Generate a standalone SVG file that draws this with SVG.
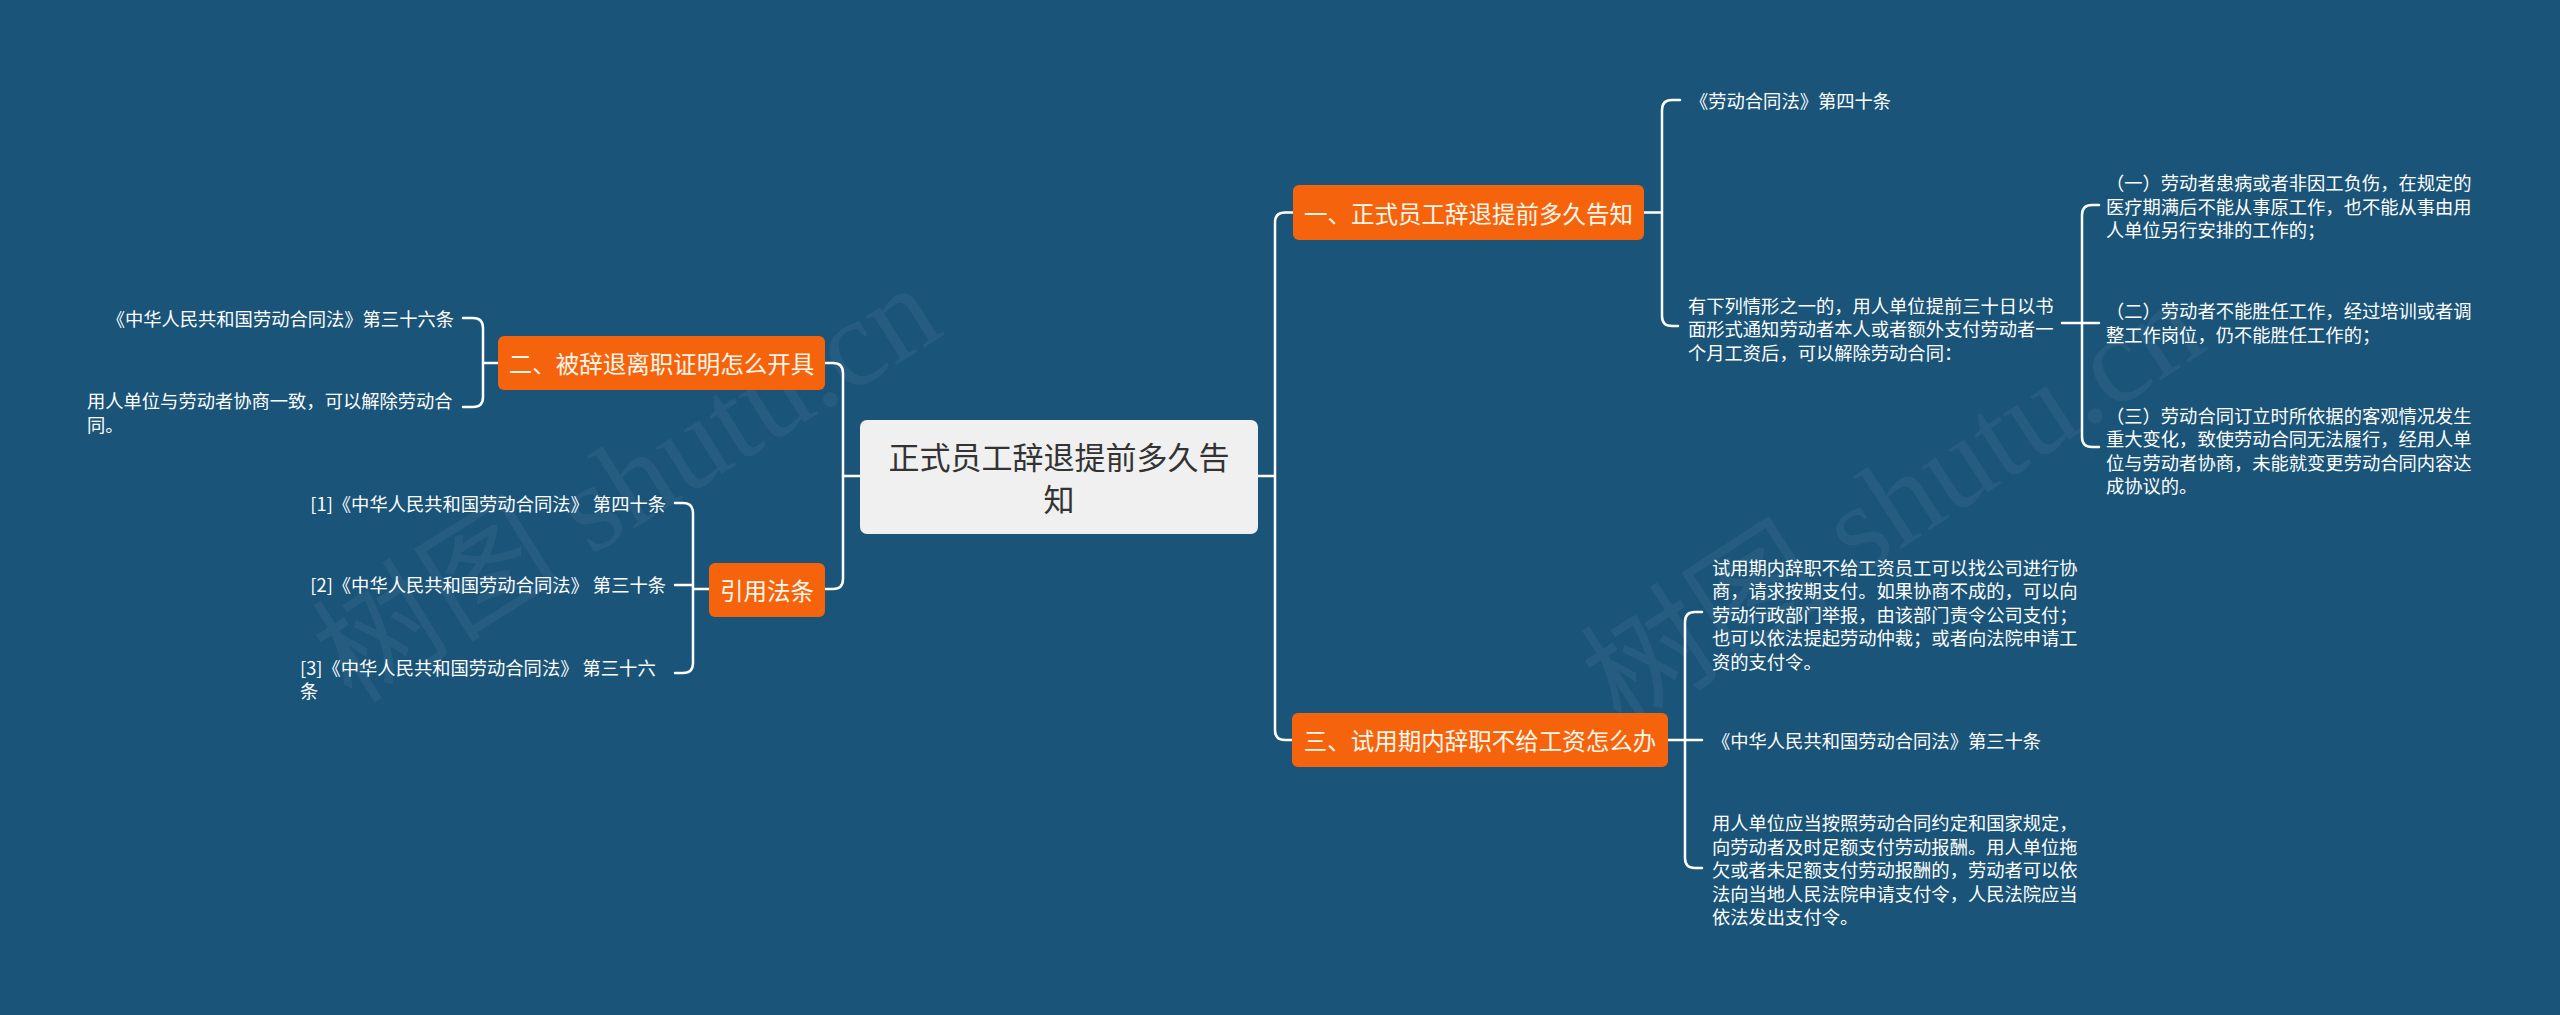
<svg xmlns="http://www.w3.org/2000/svg" width="2560" height="1015" viewBox="0 0 2560 1015">
<style>
.bg{fill:#1a5479}
.wm{font-family:"Liberation Serif","Noto Sans CJK SC",serif;font-size:125px;fill:#a8b4bf;fill-opacity:0.09}
.root rect{fill:#f0f0f0}
.root text{font-family:"Noto Sans CJK SC","Noto Sans",sans-serif;font-size:31px;fill:#333333;text-anchor:middle;dominant-baseline:central}
.br rect{fill:#f5640c}
.br text{font-family:"Noto Sans CJK SC","Noto Sans",sans-serif;font-size:23.5px;fill:#fff6ea;text-anchor:middle;dominant-baseline:central}
.lf text{font-family:"Noto Sans CJK SC","Noto Sans",sans-serif;font-size:18.3px;fill:#ffffff;dominant-baseline:central}
.end{text-anchor:end}
#connectors path{fill:none;stroke:#ffffff;stroke-width:2.5;stroke-linecap:round;stroke-linejoin:round}
</style>
<rect class="bg" x="0" y="0" width="2560" height="1015"/>
<text class="wm" transform="translate(352,705) rotate(-32)">树图 shutu.cn</text>
<text class="wm" transform="translate(1622,730) rotate(-33)">树图 shutu.cn</text>

<g id="connectors">
<path d="M1258,476 H1275 M1293,212.5 H1285 Q1275,212.5 1275,222.5 V730 Q1275,740 1285,740 H1292"/>
<path d="M860,476 H843 M825,363 H833 Q843,363 843,373 V579 Q843,589 833,589 H825"/>
<path d="M1644,212.5 H1662 M1680,100 H1672 Q1662,100 1662,110 V316 Q1662,326 1672,326 H1678"/>
<path d="M2062,323 H2099 M2099,205 H2092 Q2082,205 2082,215 V437 Q2082,447 2092,447 H2099"/>
<path d="M1668,740 H1702 M1702,612 H1695 Q1685,612 1685,622 V858 Q1685,868 1695,868 H1702"/>
<path d="M498,363 H483 M463,318 H473 Q483,318 483,328 V397 Q483,407 473,407 H463"/>
<path d="M709,589 H693 M675,585 H693 M675,503 H683 Q693,503 693,513 V663 Q693,673 683,673 H675"/>
</g>

<g id="root" class="root">
<rect x="860" y="420" width="398" height="114" rx="7"/>
<text x="1059" y="455">正式员工辞退提前多久告</text>
<text x="1059" y="497">知</text>
</g>

<g id="branch1" class="br">
<rect x="1293" y="185" width="351" height="55" rx="6"/>
<text x="1468.5" y="212.5">一、正式员工辞退提前多久告知</text>
</g>
<g id="branch2" class="br">
<rect x="498" y="336" width="327" height="54" rx="6"/>
<text x="661.5" y="363">二、被辞退离职证明怎么开具</text>
</g>
<g id="branch3" class="br">
<rect x="1292" y="713" width="376" height="54" rx="6"/>
<text x="1480" y="740">三、试用期内辞职不给工资怎么办</text>
</g>
<g id="branch4" class="br">
<rect x="709" y="563" width="116" height="54" rx="6"/>
<text x="767" y="590">引用法条</text>
</g>

<g id="leaf1a" class="lf"><text x="1690" y="100">《劳动合同法》第四十条</text></g>
<g id="leaf1b" class="lf">
<text x="1688" y="304.5">有下列情形之一的，用人单位提前三十日以书</text>
<text x="1688" y="328">面形式通知劳动者本人或者额外支付劳动者一</text>
<text x="1688" y="351.5">个月工资后，可以解除劳动合同：</text>
</g>
<g id="leaf1b1" class="lf">
<text x="2106" y="182">（一）劳动者患病或者非因工负伤，在规定的</text>
<text x="2106" y="205.5">医疗期满后不能从事原工作，也不能从事由用</text>
<text x="2106" y="229">人单位另行安排的工作的；</text>
</g>
<g id="leaf1b2" class="lf">
<text x="2106" y="310">（二）劳动者不能胜任工作，经过培训或者调</text>
<text x="2106" y="333.5">整工作岗位，仍不能胜任工作的；</text>
</g>
<g id="leaf1b3" class="lf">
<text x="2106" y="414.5">（三）劳动合同订立时所依据的客观情况发生</text>
<text x="2106" y="438">重大变化，致使劳动合同无法履行，经用人单</text>
<text x="2106" y="461.5">位与劳动者协商，未能就变更劳动合同内容达</text>
<text x="2106" y="485">成协议的。</text>
</g>

<g id="leaf3a" class="lf">
<text x="1712" y="566.5">试用期内辞职不给工资员工可以找公司进行协</text>
<text x="1712" y="590">商，请求按期支付。如果协商不成的，可以向</text>
<text x="1712" y="613.5">劳动行政部门举报，由该部门责令公司支付；</text>
<text x="1712" y="637">也可以依法提起劳动仲裁；或者向法院申请工</text>
<text x="1712" y="660.5">资的支付令。</text>
</g>
<g id="leaf3b" class="lf"><text x="1712" y="740">《中华人民共和国劳动合同法》第三十条</text></g>
<g id="leaf3c" class="lf">
<text x="1712" y="822">用人单位应当按照劳动合同约定和国家规定，</text>
<text x="1712" y="845.5">向劳动者及时足额支付劳动报酬。用人单位拖</text>
<text x="1712" y="869">欠或者未足额支付劳动报酬的，劳动者可以依</text>
<text x="1712" y="892.5">法向当地人民法院申请支付令，人民法院应当</text>
<text x="1712" y="916">依法发出支付令。</text>
</g>

<g id="leaf2a" class="lf"><text class="end" x="454" y="318">《中华人民共和国劳动合同法》第三十六条</text></g>
<g id="leaf2b" class="lf">
<text x="87" y="400">用人单位与劳动者协商一致，可以解除劳动合</text>
<text x="87" y="423.5">同。</text>
</g>

<g id="leaf4a" class="lf"><text class="end" x="666" y="503">[1]《中华人民共和国劳动合同法》 第四十条</text></g>
<g id="leaf4b" class="lf"><text class="end" x="666" y="584">[2]《中华人民共和国劳动合同法》 第三十条</text></g>
<g id="leaf4c" class="lf">
<text x="300" y="666.5">[3]《中华人民共和国劳动合同法》 第三十六</text>
<text x="300" y="690">条</text>
</g>
</svg>
